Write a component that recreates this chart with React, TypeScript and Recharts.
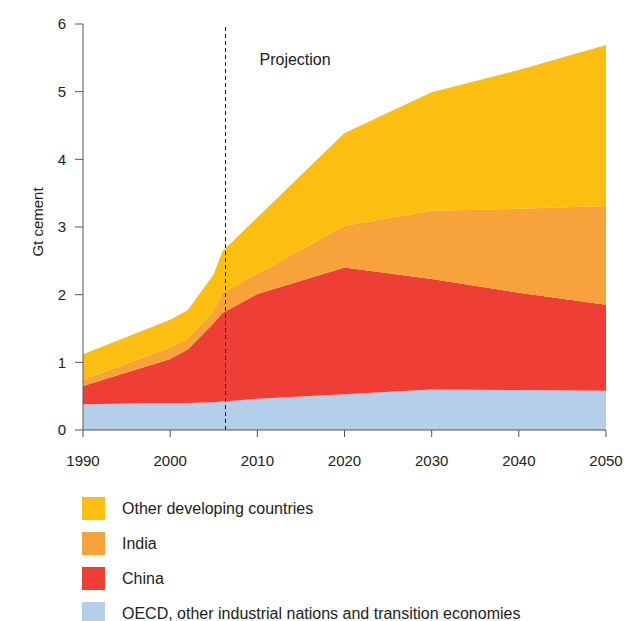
import React from "react";
import {
  AreaChart,
  Area,
  XAxis,
  YAxis,
  ReferenceLine,
} from "recharts";

// years where the source curves have a kink
const years = [1990, 2000, 2002, 2005, 2006, 2010, 2020, 2030, 2040, 2050];

// Gt cement, per region (stacked bottom to top)
const oecd = [0.38, 0.4, 0.4, 0.41, 0.42, 0.46, 0.53, 0.6, 0.59, 0.58];
const china = [0.27, 0.65, 0.79, 1.17, 1.31, 1.55, 1.87, 1.63, 1.44, 1.27];
const india = [0.09, 0.17, 0.16, 0.18, 0.3, 0.3, 0.62, 1.01, 1.24, 1.46];
const otherDev = [0.38, 0.41, 0.42, 0.54, 0.61, 0.83, 1.37, 1.75, 2.05, 2.38];

const xTicks = [1990, 2000, 2010, 2020, 2030, 2040, 2050];
const yTicks = [0, 1, 2, 3, 4, 5, 6];
const projectionYear = 2006.35;

const data = years.map((year, i) => ({
  year,
  oecd: oecd[i],
  china: china[i],
  india: india[i],
  otherDev: otherDev[i],
}));

const legendItems = [
  { name: "Other developing countries", color: "#FDBE12" },
  { name: "India", color: "#F8A23B" },
  { name: "China", color: "#EF3E36" },
  { name: "OECD, other industrial nations and transition economies", color: "#B5CEEA" },
];

const FONT = '"Liberation Sans", Arial, Helvetica, sans-serif';

export default function App() {
  return (
    <div
      style={{
        position: "absolute",
        left: 0,
        top: 0,
        width: 626,
        height: 621,
        background: "#fff",
        fontFamily: FONT,
      }}
    >
      <AreaChart
        width={626}
        height={480}
        data={data}
        margin={{ top: 24, right: 20, left: 0, bottom: 0 }}
      >
        <XAxis
          dataKey="year"
          type="number"
          domain={[1990, 2050]}
          ticks={xTicks}
          height={50}
          stroke="#555"
          tickSize={7}
          tickMargin={18}
          tick={{ fill: "#222", fontSize: 15, fontFamily: FONT }}
        />
        <YAxis
          domain={[0, 6]}
          ticks={yTicks}
          width={83}
          stroke="#555"
          tickSize={8}
          tickMargin={9}
          tick={{ fill: "#222", fontSize: 15, fontFamily: FONT }}
          label={{
            content: () => (
              <text
                x={37}
                y={222}
                transform="rotate(-90, 37, 222)"
                textAnchor="middle"
                dominantBaseline="central"
                fill="#222"
                fontSize={15}
                fontFamily={FONT}
              >
                Gt cement
              </text>
            ),
          }}
        />
        <Area
          type="linear"
          dataKey="oecd"
          stackId="a"
          stroke="none"
          fill="#B5CEEA"
          fillOpacity={1}
          isAnimationActive={false}
        />
        <Area
          type="linear"
          dataKey="china"
          stackId="a"
          stroke="none"
          fill="#EF3E36"
          fillOpacity={1}
          isAnimationActive={false}
        />
        <Area
          type="linear"
          dataKey="india"
          stackId="a"
          stroke="none"
          fill="#F8A23B"
          fillOpacity={1}
          isAnimationActive={false}
        />
        <Area
          type="linear"
          dataKey="otherDev"
          stackId="a"
          stroke="none"
          fill="#FDBE12"
          fillOpacity={1}
          isAnimationActive={false}
        />
        <ReferenceLine
          x={projectionYear}
          stroke="#111"
          strokeDasharray="4 3"
          label={{
            content: (props: any) => (
              <text
                x={props.viewBox.x + 34}
                y={59}
                dominantBaseline="central"
                fill="#222"
                fontSize={16}
                fontFamily={FONT}
              >
                Projection
              </text>
            ),
          }}
        />
      </AreaChart>

      {legendItems.map((item, i) => (
        <div
          key={item.name}
          style={{
            position: "absolute",
            left: 82,
            top: 497 + i * 35,
            height: 23,
            display: "flex",
            alignItems: "center",
            whiteSpace: "nowrap",
          }}
        >
          <div style={{ width: 23, height: 23, background: item.color }} />
          <span style={{ marginLeft: 17, fontSize: 16, color: "#222" }}>
            {item.name}
          </span>
        </div>
      ))}
    </div>
  );
}
